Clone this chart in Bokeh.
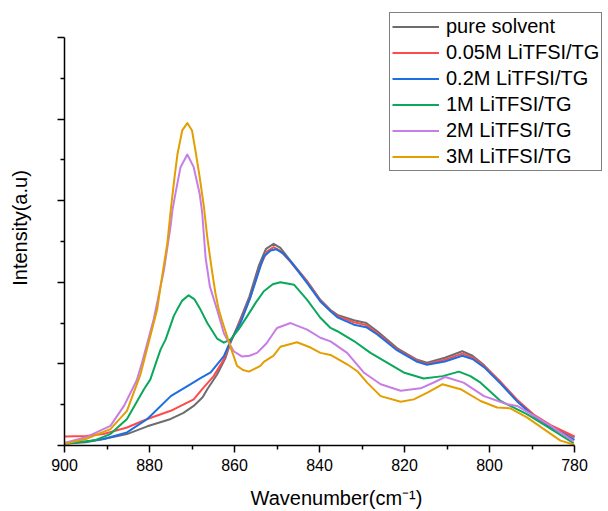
from bokeh.plotting import figure
from bokeh.models import Range1d, FixedTicker, Legend, LegendItem
from bokeh.embed import file_html
from bokeh.resources import INLINE

# ---- data ----
w_pure = [900, 895, 890.8, 885.3, 880.5, 875, 872, 869.6, 867.5, 866.4, 864.1, 862.1, 861, 858.8, 856.5, 854.3,
          852.6, 850.8, 849.2, 847, 843, 839.8, 837.4, 835.8, 831.9, 829, 826.4, 821.7, 817, 814.7, 810.5,
          806.4, 804, 801.3, 797.4, 793.5, 789.6, 785.6, 780]
i_pure = [0.04, 0.08, 0.16, 0.28, 0.47, 0.65, 0.8, 0.97, 1.18, 1.38, 1.74, 2.15, 2.5, 3.05, 3.65, 4.4,
          4.82, 4.94, 4.84, 4.55, 4.04, 3.57, 3.32, 3.2, 3.07, 3.0, 2.8, 2.38, 2.1, 2.03, 2.15,
          2.31, 2.2, 1.97, 1.55, 1.1, 0.73, 0.48, 0.2]

w_005 = [900, 895, 890.8, 885.3, 880.5, 875, 869.6, 867.6, 864.9, 862.5, 861, 858.7, 856.3, 854, 852.4, 850.8,
         849.2, 847, 843, 839.8, 837.4, 835.8, 831.9, 829, 826.4, 821.7, 817, 814.7, 810.5, 806.4, 804,
         801.3, 797.4, 793.5, 789.6, 785.6, 780]
i_005 = [0.22, 0.23, 0.28, 0.44, 0.65, 0.85, 1.13, 1.38, 1.7, 2.11, 2.52, 3.02, 3.62, 4.38, 4.75, 4.86,
         4.77, 4.52, 4.02, 3.55, 3.3, 3.17, 3.02, 2.95, 2.75, 2.35, 2.08, 2.0, 2.1, 2.25, 2.16,
         1.95, 1.56, 1.12, 0.76, 0.5, 0.22]

w_02 = [900, 895, 890.8, 885.3, 880.5, 875, 870.4, 868, 865.6, 862.5, 861, 858.6, 856.2, 853.9, 853.1, 851.5,
        850.2, 848.5, 846.8, 842.9, 839.8, 837.4, 835.8, 831.9, 829, 826.4, 821.7, 817, 814.7, 810.5, 806.4,
        804, 801.3, 797.4, 793.5, 789.6, 785.6, 780]
i_02 = [0.06, 0.1, 0.16, 0.32, 0.65, 1.21, 1.5, 1.65, 1.79, 2.19, 2.55, 3.0, 3.65, 4.39, 4.63, 4.78,
        4.81, 4.7, 4.51, 3.98, 3.53, 3.29, 3.14, 2.96, 2.9, 2.72, 2.33, 2.05, 1.98, 2.06, 2.2,
        2.12, 1.92, 1.52, 1.08, 0.72, 0.45, 0.14]

w_1 = [900, 893.1, 889.2, 885.3, 881.3, 879.8, 878.2, 877.4, 876.2, 874.3, 873.5, 872.3, 870.8, 869.4, 868,
       866.4, 864.1, 862.5, 860.9, 859, 857, 855, 853.1, 851, 849.2, 846, 842.9, 839.8, 837.4, 835.8,
       831.9, 828, 824.1, 820.2, 815.5, 811, 807.2, 804.5, 802.1, 797.4, 795.1, 791.2, 786.7, 780.2]
i_1 = [0.04, 0.12, 0.28, 0.65, 1.38, 1.62, 2.11, 2.35, 2.6, 3.17, 3.33, 3.55, 3.68, 3.58, 3.33,
       3.0, 2.62, 2.52, 2.6, 2.85, 3.17, 3.5, 3.78, 3.95, 4.0, 3.94, 3.57, 3.13, 2.88, 2.8,
       2.56, 2.27, 2.03, 1.79, 1.64, 1.7, 1.81, 1.7, 1.54, 1.09, 0.97, 0.77, 0.48, 0.06]

w_2 = [900, 895, 889.2, 886, 883, 881.7, 879, 876.6, 875, 874.6, 873.9, 872.7, 871.1, 869.6, 868.2, 867.6,
       866.8, 865.8, 864.1, 862.5, 861.3, 860.2, 858.2, 856.5, 854.7, 852.5, 850, 846.8, 842.9, 839.8,
       837.4, 833.5, 829.6, 825.6, 820.9, 816.2, 813, 810.4, 806.1, 801.3, 795.8, 793.5, 789.6, 785.6, 780.2]
i_2 = [0.06, 0.2, 0.48, 0.97, 1.6, 2.05, 3.1, 4.3, 5.4, 5.77, 6.17, 6.82, 7.13, 6.82, 6.17, 5.7,
       4.6, 3.9, 3.33, 2.75, 2.52, 2.31, 2.18, 2.2, 2.27, 2.5, 2.88, 3.0, 2.84, 2.64,
       2.55, 2.27, 1.79, 1.5, 1.34, 1.4, 1.55, 1.68, 1.54, 1.21, 1.01, 0.97, 0.73, 0.48, 0.1]

w_3 = [900, 895, 889.2, 885.3, 882.1, 879.8, 878.2, 877.4, 875.8, 875, 874.1, 873.4, 872.3, 871.1, 870, 869.2,
       868.2, 867.2, 866.4, 865.4, 864.5, 863.7, 862.9, 860.9, 859.4, 858, 856.6, 853.9, 853.1, 850.8,
       849.2, 845.3, 842.1, 839.8, 837.4, 833.5, 831.1, 828.8, 825.6, 820.9, 817.8, 814.5, 811.1, 806.8,
       802.1, 798.2, 795.1, 791.2, 787.2, 783.3, 780]
i_3 = [0.04, 0.16, 0.4, 0.85, 1.75, 2.68, 3.33, 3.9, 4.96, 5.77, 6.58, 7.15, 7.72, 7.9, 7.72, 7.23,
       6.58, 5.85, 5.1, 4.35, 3.74, 3.33, 3.05, 2.4, 1.95, 1.85, 1.81, 1.95, 2.05, 2.2,
       2.42, 2.53, 2.4, 2.27, 2.22, 1.99, 1.82, 1.54, 1.21, 1.07, 1.13, 1.3, 1.5, 1.38,
       1.09, 0.93, 0.91, 0.69, 0.4, 0.12, 0.02]

labels = ["pure solvent", "0.05M LiTFSI/TG", "0.2M LiTFSI/TG", "1M LiTFSI/TG", "2M LiTFSI/TG", "3M LiTFSI/TG"]
colors = ["#6d6d6d", "#ff4b4b", "#1c6fe0", "#0aa85a", "#c77de6", "#e39e00"]
xs = [w_pure, w_005, w_02, w_1, w_2, w_3]
ys = [i_pure, i_005, i_02, i_1, i_2, i_3]

x_ticks = [900, 880, 860, 840, 820, 800, 780]
x_minor = [890, 870, 850, 830, 810, 790]
y_ticks = [0, 2, 4, 6, 8, 10]
y_minor = [1, 3, 5, 7, 9]

FONT = "Liberation Sans"

# frame: left 64, right 608, top 10, bottom 447  -> 4.25 px per cm-1, 41 px per unit
p = figure(width=608, height=511, output_backend="svg", toolbar_location=None,
           x_range=Range1d(900, 900 - 544 / 4.25), y_range=Range1d(0, 437 / 41.0),
           min_border_left=64, min_border_right=0, min_border_top=10, min_border_bottom=64)
p.outline_line_color = None
p.grid.visible = False

items = []
for x, y, c, lab in zip(xs, ys, colors, labels):
    r = p.line(x, y, line_color=c, line_width=2, line_join="round")
    items.append(LegendItem(label=lab, renderers=[r]))

for ax in (p.xaxis[0], p.yaxis[0]):
    ax.axis_line_color = "black"
    ax.axis_line_width = 1.5
    ax.major_tick_line_color = "black"
    ax.minor_tick_line_color = "black"
    ax.major_tick_line_width = 1.5
    ax.minor_tick_line_width = 1.5
    ax.major_tick_out = 7
    ax.major_tick_in = 0
    ax.minor_tick_out = 4
    ax.minor_tick_in = 0
    ax.axis_label_text_font = FONT
    ax.axis_label_text_font_style = "normal"
    ax.axis_label_text_font_size = "20px"
    ax.axis_label_text_color = "black"
    ax.major_label_text_font = FONT
    ax.major_label_text_color = "black"

p.xaxis[0].bounds = (780, 900)
p.yaxis[0].bounds = (0, 10)
p.xaxis[0].ticker = FixedTicker(ticks=x_ticks, minor_ticks=x_minor)
p.yaxis[0].ticker = FixedTicker(ticks=y_ticks, minor_ticks=y_minor)
p.xaxis[0].major_label_text_font_size = "16px"
p.xaxis[0].major_label_standoff = 6
p.xaxis[0].axis_label = "Wavenumber(cm\u207b\u00b9)"
p.xaxis[0].axis_label_standoff = 13
p.yaxis[0].major_label_text_font_size = "0px"
p.yaxis[0].major_label_text_color = None
p.yaxis[0].axis_label = "Intensity(a.u)"
p.yaxis[0].axis_label_standoff = 27

legend = Legend(items=items, location=(325, 274), orientation="vertical",
                label_text_font=FONT, label_text_font_size="20px", label_text_color="black",
                glyph_width=47, glyph_height=23, label_height=23, label_standoff=7,
                spacing=3, padding=2, margin=0,
                border_line_color="black", border_line_width=1.2,
                background_fill_color="white", background_fill_alpha=1.0)
p.add_layout(legend, "center")

open("out.html", "w").write(file_html(p, INLINE))
